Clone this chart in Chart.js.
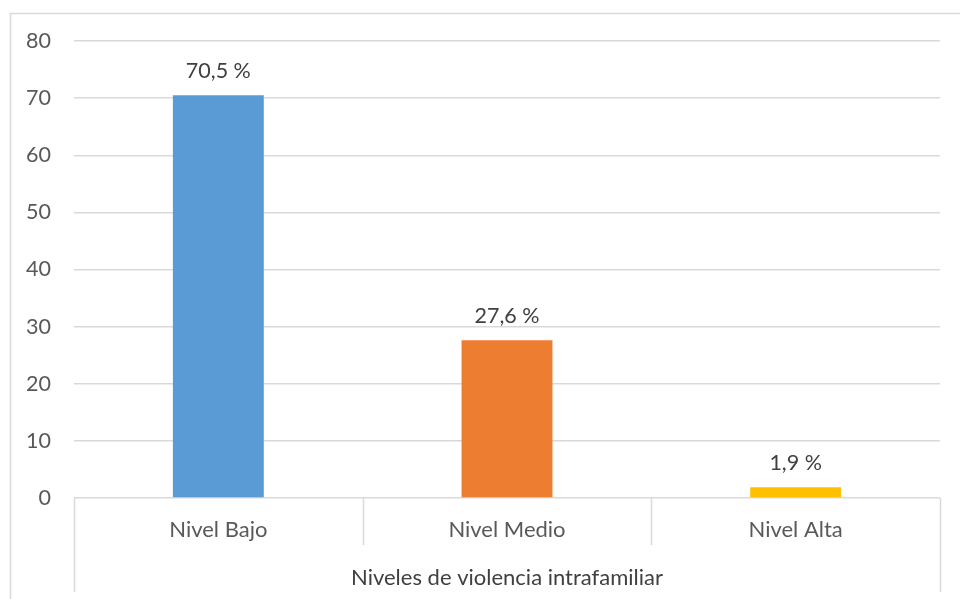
<!DOCTYPE html>
<html lang="es">
<head>
  <meta charset="UTF-8">
  <title>Niveles de violencia intrafamiliar</title>
  <script src="https://cdn.jsdelivr.net/npm/chart.js"></script>
  <style>
    html, body { margin: 0; padding: 0; background: #fff; }
    #wrap { width: 960px; height: 599px; }
  </style>
</head>
<body>
  <div id="wrap"><canvas id="chart" width="960" height="599"></canvas></div>
  <script>
    const categories = ['Nivel Bajo', 'Nivel Medio', 'Nivel Alta'];
    const values = [70.5, 27.6, 1.9];
    const labels = ['70,5 %', '27,6 %', '1,9 %'];
    const colors = ['#5B9BD5', '#ED7D31', '#FFC000'];
    const groupLabel = 'Niveles de violencia intrafamiliar';

    const FONT = 'Lato, "Open Sans", sans-serif';
    const LINE = '#d9d9d9';

    // light frame at left/top, like the exported chart box
    const frame = {
      id: 'frame',
      beforeDraw(chart) {
        const ctx = chart.ctx;
        ctx.save();
        ctx.strokeStyle = LINE;
        ctx.lineWidth = 1.5;
        ctx.beginPath();
        ctx.moveTo(10.5, chart.height);
        ctx.lineTo(10.5, 13.5);
        ctx.lineTo(chart.width, 13.5);
        ctx.stroke();
        ctx.restore();
      }
    };

    // category separators below the axis, taken from the x scale
    const separators = {
      id: 'separators',
      afterDraw(chart) {
        const x = chart.scales.x;
        const ctx = chart.ctx;
        const half = (x.getPixelForValue(1) - x.getPixelForValue(0)) / 2;
        const top = chart.chartArea.bottom;
        ctx.save();
        ctx.strokeStyle = LINE;
        ctx.lineWidth = 1.5;
        for (let i = 0; i <= categories.length; i++) {
          const px = Math.round(x.getPixelForValue(i) - half) + 0.5;
          const outer = i === 0 || i === categories.length;
          ctx.beginPath();
          ctx.moveTo(px, top);
          ctx.lineTo(px, outer ? x.bottom - 7 : top + 47);
          ctx.stroke();
        }
        ctx.restore();
      }
    };

    // value labels above the bars
    const valueLabels = {
      id: 'valueLabels',
      afterDatasetsDraw(chart) {
        const ctx = chart.ctx;
        const meta = chart.getDatasetMeta(0);
        ctx.save();
        ctx.fillStyle = '#404040';
        ctx.font = '21.5px ' + FONT;
        ctx.textAlign = 'center';
        ctx.textBaseline = 'middle';
        meta.data.forEach((bar, i) => {
          ctx.fillText(labels[i], bar.x, bar.y - 24);
        });
        ctx.restore();
      }
    };

    new Chart(document.getElementById('chart'), {
      type: 'bar',
      data: {
        labels: categories,
        datasets: [{
          data: values,
          backgroundColor: colors,
          borderWidth: 0,
          categoryPercentage: 1,
          barPercentage: 0.315
        }]
      },
      options: {
        responsive: false,
        animation: false,
        devicePixelRatio: 1,
        layout: { padding: { left: 10, right: 20, top: 41, bottom: 0 } },
        plugins: { legend: { display: false }, tooltip: { enabled: false } },
        scales: {
          y: {
            min: 0,
            max: 80,
            ticks: { stepSize: 10, padding: 23, color: '#595959', font: { family: FONT, size: 21.5 } },
            grid: { color: LINE, lineWidth: 1.5, drawTicks: false },
            border: { display: false },
            afterFit(s) { s.width = 64; }
          },
          x: {
            grid: { display: false, drawTicks: false },
            border: { display: false },
            ticks: { padding: 19, color: '#595959', font: { family: FONT, size: 22 } },
            title: {
              display: true,
              text: groupLabel,
              color: '#404040',
              font: { family: FONT, size: 22 },
              padding: { top: 4, bottom: 8 }
            },
            afterFit(s) { s.height = 101; }
          }
        }
      },
      plugins: [frame, separators, valueLabels]
    });
  </script>
</body>
</html>
